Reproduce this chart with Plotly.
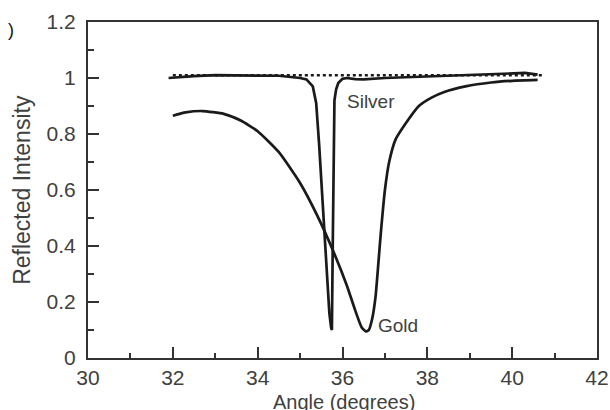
import plotly.graph_objects as go

# Data
silver_x = [31.9, 32.5, 33.0, 33.5, 34.0, 34.5, 35.0, 35.15, 35.3, 35.38, 35.45, 35.53, 35.62, 35.69,
            35.73, 35.75, 35.77, 35.79, 35.81, 35.85, 35.9, 36.0, 36.1, 36.3, 36.5, 37.0, 37.5, 38.0,
            38.5, 39.0, 39.5, 40.0, 40.3, 40.6]
silver_y = [1.0, 1.007, 1.01, 1.01, 1.01, 1.008, 1.0, 0.995, 0.97, 0.91, 0.76, 0.57, 0.34, 0.16,
            0.11, 0.1, 0.4, 0.78, 0.92, 0.96, 0.982, 0.997, 1.0, 0.996, 0.995, 1.0, 1.003, 1.005,
            1.008, 1.01, 1.014, 1.018, 1.018, 1.012]

gold_x = [32.0, 32.3, 32.7, 33.2, 33.6, 34.0, 34.5, 35.0, 35.4, 35.8, 36.1, 36.3, 36.45, 36.55,
          36.62, 36.7, 36.78, 36.9, 37.0, 37.1, 37.25, 37.5, 37.8, 38.1, 38.4, 38.9, 39.5, 40.0, 40.6]
gold_y = [0.865, 0.877, 0.882, 0.872, 0.848, 0.81, 0.735, 0.625, 0.51, 0.375, 0.26, 0.17, 0.11, 0.095,
          0.1, 0.14, 0.22, 0.44, 0.6, 0.7, 0.78, 0.84, 0.9, 0.93, 0.95, 0.97, 0.984, 0.99, 0.993]

ref_x = [32.0, 40.7]
ref_y = [1.01, 1.01]

labels = [("Silver", 36.68, 0.915), ("Gold", 37.3, 0.117)]

x_ticks = [30, 32, 34, 36, 38, 40, 42]
y_ticks = [0, 0.2, 0.4, 0.6, 0.8, 1.0, 1.2]
y_tick_text = ["0", "0.2", "0.4", "0.6", "0.8", "1", "1.2"]

x_title = "Angle (degrees)"
y_title = "Reflected Intensity"

LINE = "#1a1a1a"
AXIS = "#333333"
TEXT = "#404040"
FONT = "Liberation Sans, Arial, sans-serif"

fig = go.Figure()
fig.add_trace(go.Scatter(x=ref_x, y=ref_y, mode="lines",
                         line=dict(color=LINE, width=2.5, dash="dot"), showlegend=False))
fig.add_trace(go.Scatter(x=silver_x, y=silver_y, mode="lines",
                         line=dict(color=LINE, width=2.7), showlegend=False))
fig.add_trace(go.Scatter(x=gold_x, y=gold_y, mode="lines",
                         line=dict(color=LINE, width=2.7, shape="spline", smoothing=0.5),
                         showlegend=False))

for txt, lx, ly in labels:
    fig.add_annotation(x=lx, y=ly, text=txt, showarrow=False, xanchor="center", yanchor="middle",
                       font=dict(family=FONT, size=19, color=TEXT))

# axis titles
fig.add_annotation(xref="paper", yref="paper", x=0.502, y=-0.132, text=x_title,
                   xanchor="center", yanchor="middle",
                   showarrow=False, font=dict(family=FONT, size=20, color=TEXT))
fig.add_annotation(xref="paper", yref="paper", x=-0.13, y=0.5, text=y_title, textangle=-90,
                   xanchor="center", yanchor="middle",
                   showarrow=False, font=dict(family=FONT, size=23, color=TEXT))
# stray cropped panel mark at top-left
fig.add_annotation(xref="paper", yref="paper", x=-0.151, y=0.975, text=")",
                   xanchor="center", yanchor="middle",
                   showarrow=False, font=dict(family=FONT, size=18, color="#111"))

fig.update_xaxes(range=[30, 42], tickvals=x_ticks, ticks="inside", ticklen=11, tickwidth=1.5,
                 tickcolor=AXIS, showgrid=False, zeroline=False, showline=True, linewidth=2,
                 linecolor=AXIS, mirror=True, automargin=False, ticklabelstandoff=0,
                 minor=dict(dtick=1, ticks="inside", ticklen=5, tickwidth=1.5, tickcolor=AXIS),
                 tickfont=dict(family=FONT, size=21, color=TEXT))
fig.update_yaxes(range=[0, 1.2], tickvals=y_ticks, ticktext=y_tick_text, ticks="inside",
                 ticklen=11, tickwidth=1.5, tickcolor=AXIS, showgrid=False, zeroline=False,
                 showline=True, linewidth=2, linecolor=AXIS, mirror=True, automargin=False,
                 ticklabelstandoff=6,
                 minor=dict(dtick=0.1, ticks="inside", ticklen=6, tickwidth=1.5, tickcolor=AXIS),
                 tickfont=dict(family=FONT, size=21, color=TEXT))

fig.update_layout(width=610, height=410, margin=dict(l=88, r=13, t=22, b=52),
                  paper_bgcolor="white", plot_bgcolor="white")

fig.write_html("out.html", config={"displayModeBar": False},
               post_script="document.body.style.margin='0';document.body.style.overflow='hidden';")
